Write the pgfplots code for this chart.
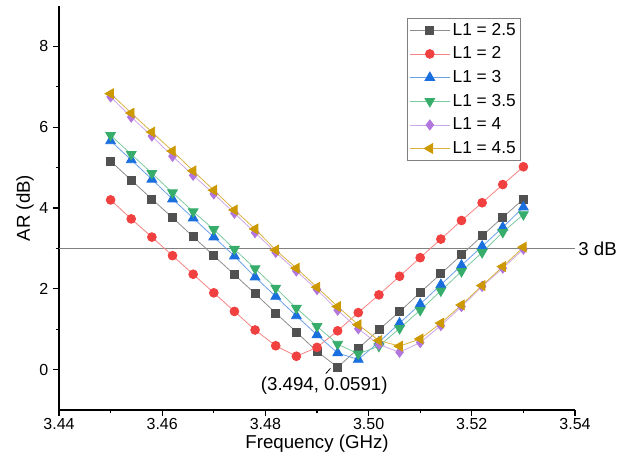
\documentclass[border=0pt]{standalone}
\usepackage{fontspec}
\setmainfont{Liberation Sans}
\usepackage{pgfplots}
\usepackage{pgfplotstable}
\pgfplotsset{compat=1.18}

\definecolor{cA}{HTML}{515151}
\definecolor{cB}{HTML}{F14040}
\definecolor{cC}{HTML}{1A6FDF}
\definecolor{cD}{HTML}{37AD6B}
\definecolor{cE}{HTML}{B177DE}
\definecolor{cF}{HTML}{CC9900}

% AR (dB) for each L1
\pgfplotstableread{
f      a25     a2    a3    a35   a4    a45
3.450  5.16    4.20  5.66  5.80  6.75  6.83
3.454  4.69    3.73  5.19  5.33  6.25  6.35
3.458  4.22    3.28  4.71  4.86  5.78  5.88
3.462  3.76    2.82  4.22  4.38  5.28  5.41
3.466  3.29    2.36  3.75  3.91  4.81  4.92
3.470  2.82    1.90  3.28  3.47  4.35  4.44
3.474  2.35    1.44  2.81  2.98  3.87  3.95
3.478  1.88    0.98  2.29  2.50  3.39  3.48
3.482  1.40    0.59  1.81  2.02  2.90  2.96
3.486  0.93    0.33  1.33  1.52  2.44  2.51
3.490  0.45    0.55  0.86  1.07  1.98  2.04
3.494  0.0591  0.96  0.41  0.63  1.47  1.56
3.498  0.52    1.41  0.25  0.39  1.01  1.11
3.502  0.99    1.85  0.68  0.58  0.62  0.72
3.506  1.43    2.31  1.15  1.02  0.43  0.58
3.510  1.91    2.77  1.62  1.47  0.67  0.76
3.514  2.37    3.23  2.10  1.95  1.09  1.15
3.518  2.84    3.69  2.58  2.43  1.56  1.60
3.522  3.31    4.13  3.05  2.90  2.06  2.08
3.526  3.77    4.58  3.52  3.40  2.51  2.55
3.530  4.22    5.02  4.02  3.84  2.98  3.03
}\ardata

\begin{document}
\begin{tikzpicture}
\begin{axis}[
    name=ax,
    scale only axis,
    width=387pt, height=303pt,
    xmin=3.44, xmax=3.54,
    ymin=-1, ymax=9,
    axis x line=bottom, axis y line=left,
    axis line style={-, line width=0.9pt},
    tick align=outside,
    xtick={3.44,3.46,3.48,3.50,3.52,3.54},
    ytick={0,2,4,6,8},
    minor x tick num=1, minor y tick num=1,
    major tick length=4.5pt, minor tick length=2.5pt,
    every tick/.style={black, line width=0.8pt},
    scaled x ticks=false,
    xticklabel style={/pgf/number format/fixed, /pgf/number format/fixed zerofill,
        /pgf/number format/precision=2, yshift=2pt},
    /pgf/number format/assume math mode=true,
    tick label style={font=\fontsize{12}{14}\selectfont},
    xlabel={Frequency (GHz)},
    ylabel={AR (dB)},
    every axis x label/.style={at={(axis description cs:0.5,-0.083)}, anchor=center,
        font=\fontsize{14}{16}\selectfont},
    every axis y label/.style={at={(axis description cs:-0.066,0.5)}, anchor=center, rotate=90,
        font=\fontsize{14}{16}\selectfont},
    clip=false,
    legend style={at={(0.895,0.97)}, anchor=north east, draw=gray, line width=0.6pt,
        font=\fontsize{13}{15}\selectfont, inner sep=1.5pt, row sep=3.2pt},
    legend cell align=left,
    legend image code/.code={
        \draw[mark repeat=2, mark phase=2] plot coordinates {(0cm,0cm) (0.52cm,0cm) (1.04cm,0cm)};
    },
]
\addplot[gray, line width=0.8pt, forget plot] coordinates {(3.44,3) (3.54,3)};

\addplot[cA!65, line width=0.6pt, mark=square*, mark size=3pt, mark options={fill=cA, draw=cA}]
    table[x=f, y=a25] {\ardata};
\addlegendentry{L1 = 2.5}
\addplot[cB!65, line width=0.6pt, mark=*, mark size=3.3pt, mark options={fill=cB, draw=cB}]
    table[x=f, y=a2] {\ardata};
\addlegendentry{L1 = 2}
\addplot[cC!65, line width=0.6pt, mark=triangle*, mark size=4.2pt, mark options={fill=cC, draw=cC}]
    table[x=f, y=a3] {\ardata};
\addlegendentry{L1 = 3}
\addplot[cD!65, line width=0.6pt, mark=triangle*, mark size=4.2pt, mark options={fill=cD, draw=cD, rotate=180}]
    table[x=f, y=a35] {\ardata};
\addlegendentry{L1 = 3.5}
\addplot[cE!65, line width=0.6pt, mark=diamond*, mark size=3.8pt, mark options={fill=cE, draw=cE}]
    table[x=f, y=a4] {\ardata};
\addlegendentry{L1 = 4}
\addplot[cF!75, line width=0.6pt, mark=triangle*, mark size=4.2pt, mark options={fill=cF, draw=cF, rotate=90}]
    table[x=f, y=a45] {\ardata};
\addlegendentry{L1 = 4.5}

\node[anchor=west, font=\fontsize{14}{16}\selectfont, inner sep=0pt] at (axis cs:3.5406,3) {3 dB};
\draw[black, line width=0.6pt] (axis cs:3.4917,-0.10) -- (axis cs:3.4926,0.03);
\node[font=\fontsize{14}{16}\selectfont] at (axis cs:3.4914,-0.41) {(3.494, 0.0591)};
\end{axis}
\path ([shift={(-44.25pt,-40.5pt)}]ax.south west) rectangle ([shift={(41.25pt,4.5pt)}]ax.north east);
\end{tikzpicture}
\end{document}
